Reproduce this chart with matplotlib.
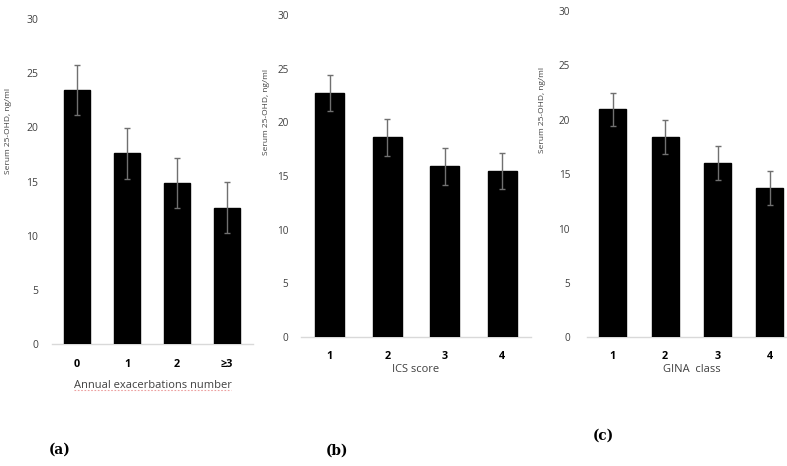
import matplotlib
matplotlib.use("Agg")
import matplotlib.pyplot as plt
from matplotlib.lines import Line2D
import numpy as np

plt.rcParams['font.family'] = ['Open Sans', 'DejaVu Sans']

cats_a = ["0", "1", "2", "≥3"]
vals_a = [23.45, 17.6, 14.85, 12.6]
errs_a = [2.3, 2.35, 2.3, 2.35]

cats_b = ["1", "2", "3", "4"]
vals_b = [22.75, 18.6, 15.9, 15.45]
errs_b = [1.7, 1.7, 1.7, 1.7]

cats_c = ["1", "2", "3", "4"]
vals_c = [20.95, 18.4, 16.05, 13.75]
errs_c = [1.55, 1.55, 1.55, 1.55]

yticks = [0, 5, 10, 15, 20, 25, 30]
ylabel = "Serum 25-OHD, ng/ml"
xlabels = ["Annual exacerbations number", "ICS score", "GINA  class"]
panel_labels = ["(a)", "(b)", "(c)"]

W, H = 787, 466
fig = plt.figure(figsize=(W / 100, H / 100), dpi=100)

def px_axes(left, right, top, bottom):
    return fig.add_axes([left / W, (H - bottom) / H, (right - left) / W, (bottom - top) / H])

panels = [
    dict(box=(52, 253, 19, 344), cats=cats_a, vals=vals_a, errs=errs_a, xmax=3.52, width=0.52,
         ylab=(9, 131), xlab_y=386, plab=(60, 450), ypad=10, xpad=11, yfs=7.5),
    dict(box=(301, 531, 15, 337), cats=cats_b, vals=vals_b, errs=errs_b, xmax=3.5, width=0.51,
         ylab=(266, 112), xlab_y=370, plab=(337, 451), ypad=9, xpad=10, yfs=7.2),
    dict(box=(586.7, 796, 11, 337.3), cats=cats_c, vals=vals_c, errs=errs_c, xmax=3.5, width=0.52,
         ylab=(542, 110), xlab_y=370, plab=(603, 436), ypad=12, xpad=10, yfs=7.2),
]

xlab_texts = []
for i, p in enumerate(panels):
    l, r, t, b = p["box"]
    ax = px_axes(l, r, t, b)
    x = np.arange(len(p["cats"]))
    ax.bar(x, p["vals"], width=p["width"], color="black", edgecolor="black", zorder=2)
    ax.errorbar(x, p["vals"], yerr=p["errs"], fmt="none", ecolor="#707070",
                elinewidth=1.0, capsize=2.5, capthick=1.0, zorder=3)
    ax.set_xlim(-0.5, p["xmax"])
    ax.set_ylim(0, 30)
    ax.set_yticks(yticks)
    ax.set_xticks(x)
    ax.set_xticklabels(p["cats"], fontweight="bold", fontsize=7.8, color="black")
    ax.tick_params(axis="y", length=0, pad=p["ypad"], labelsize=p["yfs"], labelcolor="#404040")
    ax.tick_params(axis="x", length=0, pad=p["xpad"])
    for s in ["top", "right", "left"]:
        ax.spines[s].set_visible(False)
    ax.spines["bottom"].set_color("#d9d9d9")
    ax.spines["bottom"].set_linewidth(1.0)
    ax.spines["bottom"].set_zorder(1)
    ax.patch.set_alpha(0)
    fig.text(p["ylab"][0] / W, 1 - p["ylab"][1] / H, ylabel, rotation=90,
             ha="center", va="center", fontsize=6, color="#404040")
    xt = fig.text(((l + r) / 2) / W, 1 - p["xlab_y"] / H, xlabels[i],
                  ha="center", va="center", fontsize=8, color="#404040")
    xlab_texts.append(xt)
    fig.text(p["plab"][0] / W, 1 - p["plab"][1] / H, panel_labels[i],
             ha="center", va="center", fontsize=9.8, fontweight="bold",
             family="DejaVu Serif", color="black")

# spell-check style dotted red underline under the first x label, as in the reference
fig.canvas.draw()
bb = xlab_texts[0].get_window_extent(renderer=fig.canvas.get_renderer())
y_line = (bb.y0 + 1.5) / H
fig.add_artist(Line2D([bb.x0 / W, bb.x1 / W], [y_line, y_line], transform=fig.transFigure,
                      color="#e06060", linewidth=0.8, linestyle=(0, (1.5, 1.5)), alpha=0.6))

fig.savefig("out.png", dpi=100)
